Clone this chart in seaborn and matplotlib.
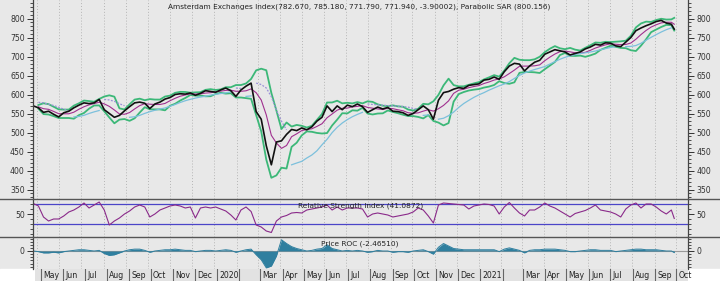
import numpy as np
import pandas as pd
import matplotlib
matplotlib.use("Agg")
import matplotlib.pyplot as plt
import matplotlib.dates as mdates
from matplotlib.ticker import MultipleLocator, FixedLocator
from matplotlib.lines import Line2D
import seaborn as sns

# ---------------- data (weekly readings from the picture) ----------------
dates = list(pd.date_range("2019-04-26", "2021-09-24", freq="W-FRI")) + [pd.Timestamp("2021-09-28")]

close_2019 = [570, 565, 553, 556, 548, 541, 552, 556, 565, 572, 578, 576, 578, 587, 560, 550, 540, 545,
              557, 568, 578, 580, 577, 563, 575, 580, 588, 592, 600, 602, 601, 604, 598, 603, 610, 608]
close_2020 = [606, 612, 617, 610, 595, 612, 622, 630, 555, 535, 465, 415, 475, 478, 495, 508, 505, 512,
              507, 515, 530, 540, 570, 555, 570, 560, 572, 568, 575, 568, 553, 560, 567, 562, 566, 556,
              555, 552, 545, 550, 560, 570, 560, 535, 585, 605, 608, 614, 618, 616, 624, 626]
close_2021 = [628, 638, 640, 646, 640, 660, 675, 682, 680, 662, 675, 685, 690, 706, 712, 718, 715, 712,
              704, 708, 712, 720, 725, 732, 730, 736, 735, 728, 726, 738, 750, 768, 775, 781, 786, 792,
              795, 788, 785, 771.94]

rsi_2019 = [71, 66, 44, 36, 40, 40, 46, 54, 58, 64, 72, 62, 68, 74, 58, 28, 36, 42, 50, 56, 64, 68, 64, 44,
            50, 58, 62, 66, 68, 66, 62, 64, 42, 62, 64, 62]
rsi_2020 = [64, 60, 56, 48, 38, 58, 64, 55, 28, 24, 16, 13, 36, 44, 47, 52, 53, 52, 58, 60, 62, 64, 68, 58,
            64, 58, 62, 62, 62, 60, 44, 50, 52, 50, 48, 44, 46, 48, 50, 54, 62, 58, 46, 32, 68, 72, 71, 70,
            69, 68, 60, 66]
rsi_2021 = [68, 70, 69, 66, 50, 64, 73, 62, 52, 46, 58, 58, 64, 72, 66, 62, 56, 50, 44, 51, 54, 57, 62, 68,
            58, 56, 54, 50, 44, 60, 68, 72, 62, 70, 70, 64, 56, 50, 58, 41.0872]

roc_2019 = [0, -1, -3, -3, -2, -3, -1, 0, 1, 2, 2, 1, 0, 1, -4, -7, -6, -3, 0, 2, 3, 3, 1, -2, 0, 1, 2, 2,
            3, 2, 1, 1, -1, 0, 1, 1]
roc_2020 = [0, 1, 2, 1, -2, 0, 2, 3, -6, -14, -27, -24, -8, 18, 12, 7, 4, 2, 0, 1, 3, 4, 10, 4, 2, 0, 1, 0,
            1, 0, -2, -1, 1, 0, 0, -2, -1, -1, -2, 0, 1, 2, -1, -5, 6, 12, 8, 4, 3, 2, 2, 2]
roc_2021 = [2, 2, 2, 2, -1, 3, 5, 3, 1, -3, 1, 2, 2, 3, 3, 3, 2, 1, -1, -1, 0, 1, 2, 2, 1, 1, 1, -1, 0, 1,
            2, 3, 3, 2, 2, 2, 1, 0, 0, -2.4651]

month_labels = ["May", "Jun", "Jul", "Aug", "Sep", "Oct", "Nov", "Dec", "2020", "", "Mar", "Apr", "May",
                "Jun", "Jul", "Aug", "Sep", "Oct", "Nov", "Dec", "2021", "", "Mar", "Apr", "May", "Jun",
                "Jul", "Aug", "Sep", "Oct"]

title_text = "Amsterdam Exchanges Index(782.670, 785.180, 771.790, 771.940, -3.90002), Parabolic SAR (800.156)"
rsi_text = "Relative Strength Index (41.0872)"
roc_text = "Price ROC (-2.46510)"

df = pd.DataFrame({"date": dates,
                   "close": close_2019 + close_2020 + close_2021,
                   "rsi": rsi_2019 + rsi_2020 + rsi_2021,
                   "roc": roc_2019 + roc_2020 + roc_2021})

# derived indicators (Bollinger bands on ~20 trading days = 4 weeks, parabolic SAR)
roll = df["close"].rolling(4, min_periods=2)
df["mid"] = roll.mean()
df["sd"] = roll.std(ddof=0)
df["upper"] = df["mid"] + 2 * df["sd"]
df["lower"] = df["mid"] - 2 * df["sd"]


def psar(vals, step=0.05, mx=0.2):
    n = len(vals)
    sar = np.full(n, np.nan)
    trend = np.zeros(n, dtype=bool)
    up = False
    af = step
    ep = vals[0]
    s = vals[0] + 10
    for i in range(1, n):
        s = s + af * (ep - s)
        if up:
            if vals[i] < s:
                up, s, ep, af = False, ep, vals[i], step
            elif vals[i] > ep:
                ep, af = vals[i], min(af + step, mx)
        else:
            if vals[i] > s:
                up, s, ep, af = True, ep, vals[i], step
            elif vals[i] < ep:
                ep, af = vals[i], min(af + step, mx)
        sar[i] = s
        trend[i] = up
    return sar, trend


sar, trend = psar(df["close"].to_numpy())
df["sar"] = sar
df["trend"] = trend

# ---------------- figure ----------------
BG = "#e8e8e8"
W, H = 720, 281
fig = plt.figure(figsize=(7.2, 2.81), dpi=100, facecolor=BG)
plt.rcParams["font.family"] = ["DejaVu Sans"]

L, R = 33 / W, 688 / W


def fy(px):
    return 1 - px / H


ax = fig.add_axes([L, fy(199), R - L, fy(0) - fy(199)], facecolor=BG)
ax_rsi = fig.add_axes([L, fy(237), R - L, fy(199) - fy(237)], facecolor=BG, sharex=ax)
ax_roc = fig.add_axes([L, fy(269), R - L, fy(237) - fy(269)], facecolor=BG, sharex=ax)
ax_lab = fig.add_axes([35 / W, 0, R - 35 / W, fy(269)], facecolor="#e2e2e2")

# white bottom corners
fig.add_artist(plt.Rectangle((0, 0), 35 / W, fy(269), transform=fig.transFigure, color="white", zorder=0))
fig.add_artist(plt.Rectangle((R, 0), 1 - R, fy(269), transform=fig.transFigure, color="white", zorder=0))

xmin, xmax = pd.Timestamp("2019-04-25 12:00"), pd.Timestamp("2021-10-17")
month_starts = pd.date_range("2019-05-01", "2021-10-01", freq="MS")

# main panel
for a in (ax, ax_rsi, ax_roc):
    for m in month_starts:
        a.axvline(m, color="#b5b5b5", lw=0.7, ls=(0, (1, 2)), zorder=0)

sns.lineplot(data=df, x="date", y="upper", ax=ax, color="#3cb878", lw=1.3, estimator=None, sort=False)
sns.lineplot(data=df, x="date", y="lower", ax=ax, color="#3cb878", lw=1.3, estimator=None, sort=False)
sns.lineplot(data=df, x="date", y="mid", ax=ax, color="#a0308f", lw=0.8, estimator=None, sort=False)

# SAR segments by trend
seg_id = (df["trend"] != df["trend"].shift()).cumsum()
for _, seg in df.iloc[1:].groupby(seg_id.iloc[1:]):
    if len(seg) < 2:
        continue
    if seg["trend"].iloc[0]:
        sns.lineplot(data=seg, x="date", y="sar", ax=ax, color="#7cc0dc", lw=0.9, estimator=None, sort=False)
    else:
        sns.lineplot(data=seg, x="date", y="sar", ax=ax, color="#9a90d8", lw=0.9, ls=(0, (1.5, 1.2)),
                     estimator=None, sort=False)

sns.lineplot(data=df, x="date", y="close", ax=ax, color="#111111", lw=1.2, estimator=None, sort=False)

ax.set_xlim(xmin, xmax)
ax.set_ylim(325, 848.7)
ax.yaxis.set_major_locator(MultipleLocator(50))
ax.yaxis.set_minor_locator(MultipleLocator(10))
ax.set_yticks([350, 400, 450, 500, 550, 600, 650, 700, 750, 800])

# RSI panel
ax_rsi.axhline(70, color="#4b45c8", lw=0.9)
ax_rsi.axhline(30, color="#4b45c8", lw=0.9)
sns.lineplot(data=df, x="date", y="rsi", ax=ax_rsi, color="#8a2a8a", lw=0.8, estimator=None, sort=False)
ax_rsi.set_ylim(4, 80)
ax_rsi.yaxis.set_major_locator(FixedLocator([50]))
ax_rsi.yaxis.set_minor_locator(MultipleLocator(10))

# ROC panel
ax_roc.axhline(0, color="#9a9a9a", lw=0.8, zorder=1)
ax_roc.fill_between(df["date"], 0, df["roc"], color="#2f7f9f", lw=0, zorder=2)
sns.lineplot(data=df, x="date", y="roc", ax=ax_roc, color="#2f7f9f", lw=0.7, estimator=None, sort=False)
ax_roc.set_ylim(-28.8, 22.4)
ax_roc.yaxis.set_major_locator(FixedLocator([0]))
ax_roc.yaxis.set_minor_locator(MultipleLocator(5))

for a in (ax, ax_rsi, ax_roc):
    a.set_xlabel("")
    a.set_ylabel("")
    a.tick_params(axis="x", which="both", bottom=False, top=False, labelbottom=False)
    a.tick_params(axis="y", which="both", left=True, right=True, labelleft=True, labelright=True,
                  direction="out", colors="#333333", labelsize=5.6, pad=2)
    a.tick_params(axis="y", which="major", length=4, width=0.7)
    a.tick_params(axis="y", which="minor", length=2, width=0.6)
    for sp in ("top", "bottom"):
        a.spines[sp].set_visible(False)
    for sp in ("left", "right"):
        a.spines[sp].set_color("#444444")
        a.spines[sp].set_linewidth(0.9)
    leg = a.get_legend()
    if leg:
        leg.remove()

# month label strip
ax_lab.set_xlim(xmin - pd.Timedelta(days=(35 - 33) / 0.7234), xmax)
ax_lab.set_ylim(0, 1)
ax_lab.axis("off")
ax_lab.add_patch(plt.Rectangle((0, 0), 1, 1, transform=ax_lab.transAxes, color="#e2e2e2", zorder=0))
for m, lab in zip(month_starts, month_labels):
    ax_lab.axvline(m, color="#666666", lw=0.8)
    if lab:
        ax_lab.text(m + pd.Timedelta(days=3), 0.45, lab, ha="left", va="center", fontsize=5.6, color="#222222")

# separators
for ypx in (199, 237):
    fig.add_artist(Line2D([0, 1], [fy(ypx), fy(ypx)], transform=fig.transFigure, color="#555555", lw=1.0))

fig.text(359 / W, fy(7), title_text, ha="center", va="center", fontsize=5.3, color="#222222")
fig.text(361 / W, fy(206), rsi_text, ha="center", va="center", fontsize=5.3, color="#222222")
fig.text(360 / W, fy(244), roc_text, ha="center", va="center", fontsize=5.3, color="#222222")

fig.savefig("out.png", dpi=100, facecolor=BG)
